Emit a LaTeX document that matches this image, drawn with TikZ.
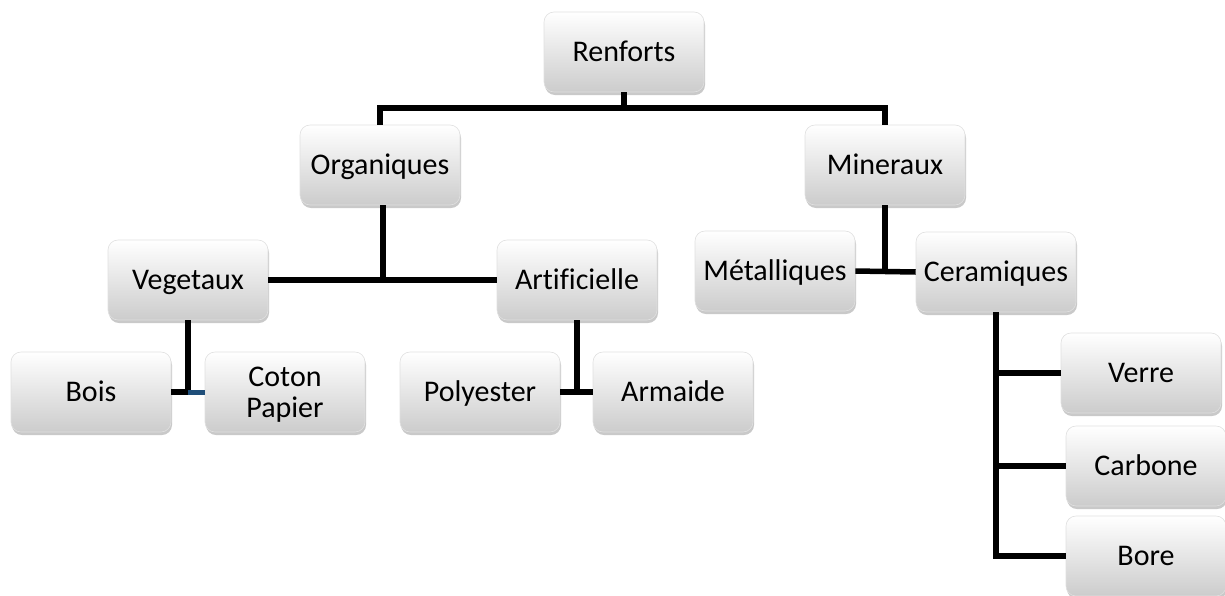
\documentclass[tikz,border=0pt]{standalone}
\usepackage{fontspec}
\setmainfont{Carlito}[Ligatures=NoCommon]
\usetikzlibrary{shadows}
\definecolor{linkblue}{HTML}{1F4E79}
\tikzset{
  box/.style={rounded corners=10pt, minimum width=160pt, minimum height=80pt,
    inner sep=2pt, align=center, font=\fontsize{30}{31}\selectfont,
    text height=19pt, text depth=0pt,
    top color=white, bottom color=black!20, draw=black!12, line width=0.6pt,
    drop shadow={shadow xshift=1pt, shadow yshift=-3pt, opacity=0.35, fill=black!60}},
  conn/.style={line width=5.5pt, black}
}
\begin{document}
\begin{tikzpicture}[x=1pt,y=-1pt]
\useasboundingbox (0,0) rectangle (1225,595);
\fill[white] (0,0) rectangle (1225,595);
\coordinate (rj) at (624,108);
\node[box] (R)  at (624,52)  {Renforts};
\node[box] (O)  at (380,165) {Organiques};
\node[box] (M)  at (885,165) {Mineraux};
\node[box] (V)  at (188,280) {Vegetaux};
\node[box] (A)  at (577,280) {Artificielle};
\node[box] (B)  at (91,392)  {Bois};
\node[box, text height=50pt] (C)  at (285,392) {Coton\\Papier};
\node[box] (P)  at (480,392) {Polyester};
\node[box] (Ar) at (673,392) {Armaide};
\node[box] (Me) at (775,271) {Métalliques};
\node[box] (Ce) at (996,272) {Ceramiques};
\node[box] (Ve) at (1141,373) {Verre};
\node[box] (Ca) at (1146,466) {Carbone};
\node[box] (Bo) at (1146,556) {Bore};
% connectors
\draw[conn] (R.south) -- (rj);
\draw[conn] (O.north) |- (rj) -| (M.north);
\draw[conn] (O.south -| 383,0) -- (383,280) coordinate (oj);
\draw[conn] (V.east) -- (A.west);
\draw[conn] (V.south) -- (V.south |- B.east) coordinate (vj);
\draw[conn] (B.east) -- (vj);
\draw[line width=5pt, linkblue] (vj) -- (C.west);
\draw[conn] (A.south) -- (A.south |- P.east);
\draw[conn] (P.east) -- (Ar.west);
\draw[conn] (M.south) -- (M.south |- Me.east);
\draw[conn] (Me.east) -- (Ce.west);
\draw[conn] (Ce.south) |- (Bo.west);
\draw[conn] (Ce.south |- Ve.west) -- (Ve.west);
\draw[conn] (Ce.south |- Ca.west) -- (Ca.west);
\end{tikzpicture}
\end{document}
